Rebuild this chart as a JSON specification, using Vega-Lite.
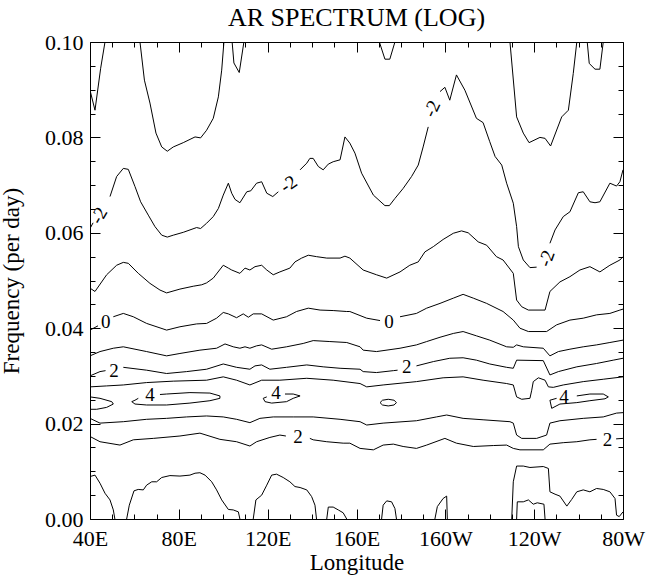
{
"$schema": "https://vega.github.io/schema/vega-lite/v6.json",
"width": 533, "height": 477,
"autosize": {"type": "none"},
"padding": {"left": 90, "top": 42, "right": 24, "bottom": 59},
"background": "white",
"title": {"text": "AR SPECTRUM (LOG)", "font": "Liberation Serif", "fontSize": 26, "fontWeight": "normal", "color": "black", "anchor": "middle", "frame": "group", "baseline": "alphabetic", "offset": -21},
"config": {"view": {"stroke": null}, "axis": {"grid": false, "domainColor": "black", "tickColor": "black", "labelColor": "black", "titleColor": "black", "labelFont": "Liberation Serif", "titleFont": "Liberation Serif", "labelFontSize": 22, "titleFontSize": 23, "titleFontWeight": "normal", "domainWidth": 1, "tickWidth": 1, "labelFlush": false, "labelOverlap": false}},
"datasets": {
"contours": [
{"level":-3,"seg":"TL","lon":40,"freq":0.0899},{"level":-3,"seg":"TL","lon":42.25,"freq":0.0857},{"level":-3,"seg":"TL","lon":44.8,"freq":0.0945},{"level":-3,"seg":"TL","lon":46.75,"freq":0.1},
{"level":-3,"seg":"U1","lon":62.5,"freq":0.1},{"level":-3,"seg":"U1","lon":64.5,"freq":0.092},{"level":-3,"seg":"U1","lon":67,"freq":0.0872},{"level":-3,"seg":"U1","lon":69.7,"freq":0.0809},{"level":-3,"seg":"U1","lon":72.3,"freq":0.078},{"level":-3,"seg":"U1","lon":74.8,"freq":0.0771},{"level":-3,"seg":"U1","lon":77.5,"freq":0.078},{"level":-3,"seg":"U1","lon":82,"freq":0.0789},{"level":-3,"seg":"U1","lon":87.3,"freq":0.0801},{"level":-3,"seg":"U1","lon":89.8,"freq":0.0799},{"level":-3,"seg":"U1","lon":92.5,"freq":0.0815},{"level":-3,"seg":"U1","lon":95.5,"freq":0.084},{"level":-3,"seg":"U1","lon":97.8,"freq":0.0885},{"level":-3,"seg":"U1","lon":99.3,"freq":0.0941},{"level":-3,"seg":"U1","lon":100.3,"freq":0.1},
{"level":-3,"seg":"V1","lon":104,"freq":0.1},{"level":-3,"seg":"V1","lon":104.8,"freq":0.0956},{"level":-3,"seg":"V1","lon":107.2,"freq":0.0936},{"level":-3,"seg":"V1","lon":109.3,"freq":0.1},
{"level":-3,"seg":"V2","lon":170.3,"freq":0.1},{"level":-3,"seg":"V2","lon":172.8,"freq":0.0964},{"level":-3,"seg":"V2","lon":175,"freq":0.0964},{"level":-3,"seg":"V2","lon":177.3,"freq":0.1},
{"level":-3,"seg":"U2","lon":229.1,"freq":0.1},{"level":-3,"seg":"U2","lon":232.1,"freq":0.0843},{"level":-3,"seg":"U2","lon":235.1,"freq":0.0809},{"level":-3,"seg":"U2","lon":237.7,"freq":0.0789},{"level":-3,"seg":"U2","lon":242.6,"freq":0.08},{"level":-3,"seg":"U2","lon":244.9,"freq":0.0798},{"level":-3,"seg":"U2","lon":247.4,"freq":0.0782},{"level":-3,"seg":"U2","lon":252.4,"freq":0.0843},{"level":-3,"seg":"U2","lon":255.4,"freq":0.0857},{"level":-3,"seg":"U2","lon":257.6,"freq":0.0934},{"level":-3,"seg":"U2","lon":259.2,"freq":0.1},
{"level":-3,"seg":"V3","lon":263.9,"freq":0.1},{"level":-3,"seg":"V3","lon":264.8,"freq":0.0955},{"level":-3,"seg":"V3","lon":267.4,"freq":0.0943},{"level":-3,"seg":"V3","lon":269.6,"freq":0.0943},{"level":-3,"seg":"V3","lon":271.1,"freq":0.1},
{"level":-2,"seg":"m2a","lon":40,"freq":0.0609},{"level":-2,"seg":"m2a","lon":41.4,"freq":0.0621},
{"level":-2,"seg":"m2b","lon":49,"freq":0.0676},{"level":-2,"seg":"m2b","lon":52,"freq":0.0718},{"level":-2,"seg":"m2b","lon":55,"freq":0.0735},{"level":-2,"seg":"m2b","lon":57.25,"freq":0.0733},{"level":-2,"seg":"m2b","lon":60.25,"freq":0.0697},{"level":-2,"seg":"m2b","lon":62.8,"freq":0.0665},{"level":-2,"seg":"m2b","lon":66.25,"freq":0.0637},{"level":-2,"seg":"m2b","lon":69.25,"freq":0.0613},{"level":-2,"seg":"m2b","lon":72.3,"freq":0.0595},{"level":-2,"seg":"m2b","lon":74.8,"freq":0.0591},{"level":-2,"seg":"m2b","lon":77.5,"freq":0.0595},{"level":-2,"seg":"m2b","lon":82,"freq":0.0601},{"level":-2,"seg":"m2b","lon":88,"freq":0.0611},{"level":-2,"seg":"m2b","lon":89.8,"freq":0.0609},{"level":-2,"seg":"m2b","lon":92.5,"freq":0.062},{"level":-2,"seg":"m2b","lon":95.5,"freq":0.0634},{"level":-2,"seg":"m2b","lon":97.8,"freq":0.0651},{"level":-2,"seg":"m2b","lon":100,"freq":0.0679},{"level":-2,"seg":"m2b","lon":102.3,"freq":0.0704},{"level":-2,"seg":"m2b","lon":103.8,"freq":0.0683},{"level":-2,"seg":"m2b","lon":105.3,"freq":0.067},{"level":-2,"seg":"m2b","lon":107.5,"freq":0.0663},{"level":-2,"seg":"m2b","lon":110.6,"freq":0.0686},{"level":-2,"seg":"m2b","lon":112.4,"freq":0.0688},{"level":-2,"seg":"m2b","lon":115,"freq":0.0704},{"level":-2,"seg":"m2b","lon":117.3,"freq":0.0707},{"level":-2,"seg":"m2b","lon":119.6,"freq":0.0683},{"level":-2,"seg":"m2b","lon":122.3,"freq":0.0676},{"level":-2,"seg":"m2b","lon":124.8,"freq":0.0686},
{"level":-2,"seg":"m2c","lon":134.6,"freq":0.0732},{"level":-2,"seg":"m2c","lon":137.6,"freq":0.0746},{"level":-2,"seg":"m2c","lon":139,"freq":0.0756},{"level":-2,"seg":"m2c","lon":140.5,"freq":0.0756},{"level":-2,"seg":"m2c","lon":142.8,"freq":0.0739},{"level":-2,"seg":"m2c","lon":145,"freq":0.0732},{"level":-2,"seg":"m2c","lon":147.3,"freq":0.0744},{"level":-2,"seg":"m2c","lon":149.5,"freq":0.0749},{"level":-2,"seg":"m2c","lon":152.6,"freq":0.0753},{"level":-2,"seg":"m2c","lon":154.8,"freq":0.0801},{"level":-2,"seg":"m2c","lon":157,"freq":0.0788},{"level":-2,"seg":"m2c","lon":159.3,"freq":0.0767},{"level":-2,"seg":"m2c","lon":162.3,"freq":0.0725},{"level":-2,"seg":"m2c","lon":167.6,"freq":0.0679},{"level":-2,"seg":"m2c","lon":172.8,"freq":0.0657},{"level":-2,"seg":"m2c","lon":174.8,"freq":0.0657},{"level":-2,"seg":"m2c","lon":177.3,"freq":0.0672},{"level":-2,"seg":"m2c","lon":181,"freq":0.0693},{"level":-2,"seg":"m2c","lon":184.8,"freq":0.0718},{"level":-2,"seg":"m2c","lon":187.8,"freq":0.0742},{"level":-2,"seg":"m2c","lon":190,"freq":0.078},{"level":-2,"seg":"m2c","lon":192.3,"freq":0.0822},
{"level":-2,"seg":"m2d","lon":197.6,"freq":0.0896},{"level":-2,"seg":"m2d","lon":199.8,"freq":0.0905},{"level":-2,"seg":"m2d","lon":202,"freq":0.0878},{"level":-2,"seg":"m2d","lon":205,"freq":0.0931},{"level":-2,"seg":"m2d","lon":208.8,"freq":0.0899},{"level":-2,"seg":"m2d","lon":214,"freq":0.084},{"level":-2,"seg":"m2d","lon":217,"freq":0.0831},{"level":-2,"seg":"m2d","lon":220,"freq":0.0791},{"level":-2,"seg":"m2d","lon":222.4,"freq":0.076},{"level":-2,"seg":"m2d","lon":225.4,"freq":0.0742},{"level":-2,"seg":"m2d","lon":227.6,"freq":0.0704},{"level":-2,"seg":"m2d","lon":230.6,"freq":0.0662},{"level":-2,"seg":"m2d","lon":232.1,"freq":0.0613},{"level":-2,"seg":"m2d","lon":232.9,"freq":0.0571},{"level":-2,"seg":"m2d","lon":235.1,"freq":0.0543},{"level":-2,"seg":"m2d","lon":238.1,"freq":0.0527},{"level":-2,"seg":"m2d","lon":241.1,"freq":0.0528},
{"level":-2,"seg":"m2e","lon":247.1,"freq":0.0578},{"level":-2,"seg":"m2e","lon":249.4,"freq":0.0606},{"level":-2,"seg":"m2e","lon":253.1,"freq":0.0634},{"level":-2,"seg":"m2e","lon":256.1,"freq":0.0644},{"level":-2,"seg":"m2e","lon":259.9,"freq":0.0684},{"level":-2,"seg":"m2e","lon":262.1,"freq":0.0686},{"level":-2,"seg":"m2e","lon":265.1,"freq":0.0665},{"level":-2,"seg":"m2e","lon":267.4,"freq":0.0663},{"level":-2,"seg":"m2e","lon":269.6,"freq":0.0665},{"level":-2,"seg":"m2e","lon":274.1,"freq":0.0704},{"level":-2,"seg":"m2e","lon":277.1,"freq":0.0698},{"level":-2,"seg":"m2e","lon":278.6,"freq":0.0707},{"level":-2,"seg":"m2e","lon":280,"freq":0.0732},
{"level":-1,"seg":"m1","lon":40,"freq":0.0484},{"level":-1,"seg":"m1","lon":42.25,"freq":0.0477},{"level":-1,"seg":"m1","lon":47.5,"freq":0.0512},{"level":-1,"seg":"m1","lon":52,"freq":0.0532},{"level":-1,"seg":"m1","lon":55,"freq":0.0538},{"level":-1,"seg":"m1","lon":57.25,"freq":0.0536},{"level":-1,"seg":"m1","lon":61.75,"freq":0.0515},{"level":-1,"seg":"m1","lon":67,"freq":0.0494},{"level":-1,"seg":"m1","lon":71.5,"freq":0.048},{"level":-1,"seg":"m1","lon":74.5,"freq":0.0474},{"level":-1,"seg":"m1","lon":80.5,"freq":0.0482},{"level":-1,"seg":"m1","lon":86.5,"freq":0.0488},{"level":-1,"seg":"m1","lon":90.3,"freq":0.0491},{"level":-1,"seg":"m1","lon":92.5,"freq":0.0495},{"level":-1,"seg":"m1","lon":95.5,"freq":0.0505},{"level":-1,"seg":"m1","lon":100,"freq":0.0532},{"level":-1,"seg":"m1","lon":102.3,"freq":0.0526},{"level":-1,"seg":"m1","lon":103.8,"freq":0.0522},{"level":-1,"seg":"m1","lon":107.5,"freq":0.0515},{"level":-1,"seg":"m1","lon":109.8,"freq":0.0526},{"level":-1,"seg":"m1","lon":112,"freq":0.0522},{"level":-1,"seg":"m1","lon":114.3,"freq":0.0529},{"level":-1,"seg":"m1","lon":117.3,"freq":0.0532},{"level":-1,"seg":"m1","lon":119.6,"freq":0.0522},{"level":-1,"seg":"m1","lon":122.5,"freq":0.0512},{"level":-1,"seg":"m1","lon":125.5,"freq":0.0518},{"level":-1,"seg":"m1","lon":130,"freq":0.0526},{"level":-1,"seg":"m1","lon":132.3,"freq":0.0539},{"level":-1,"seg":"m1","lon":135.3,"freq":0.0547},{"level":-1,"seg":"m1","lon":138.3,"freq":0.0553},{"level":-1,"seg":"m1","lon":142,"freq":0.055},{"level":-1,"seg":"m1","lon":146.6,"freq":0.0547},{"level":-1,"seg":"m1","lon":152.6,"freq":0.0547},{"level":-1,"seg":"m1","lon":154.8,"freq":0.0551},{"level":-1,"seg":"m1","lon":157,"freq":0.0547},{"level":-1,"seg":"m1","lon":163,"freq":0.0522},{"level":-1,"seg":"m1","lon":169,"freq":0.0512},{"level":-1,"seg":"m1","lon":173.6,"freq":0.0505},{"level":-1,"seg":"m1","lon":179.6,"freq":0.0518},{"level":-1,"seg":"m1","lon":184,"freq":0.0532},{"level":-1,"seg":"m1","lon":187.8,"freq":0.0539},{"level":-1,"seg":"m1","lon":190.8,"freq":0.056},{"level":-1,"seg":"m1","lon":194.6,"freq":0.0571},{"level":-1,"seg":"m1","lon":199,"freq":0.0586},{"level":-1,"seg":"m1","lon":203.6,"freq":0.0599},{"level":-1,"seg":"m1","lon":207.3,"freq":0.0604},{"level":-1,"seg":"m1","lon":210.3,"freq":0.06},{"level":-1,"seg":"m1","lon":214.8,"freq":0.0581},{"level":-1,"seg":"m1","lon":218.6,"freq":0.0574},{"level":-1,"seg":"m1","lon":223,"freq":0.055},{"level":-1,"seg":"m1","lon":226,"freq":0.0543},{"level":-1,"seg":"m1","lon":230.6,"freq":0.0515},{"level":-1,"seg":"m1","lon":232.1,"freq":0.0459},{"level":-1,"seg":"m1","lon":234.4,"freq":0.0445},{"level":-1,"seg":"m1","lon":237.4,"freq":0.0438},{"level":-1,"seg":"m1","lon":244.9,"freq":0.0438},{"level":-1,"seg":"m1","lon":247.1,"freq":0.0477},{"level":-1,"seg":"m1","lon":251.6,"freq":0.0497},{"level":-1,"seg":"m1","lon":256.1,"freq":0.0508},{"level":-1,"seg":"m1","lon":260.6,"freq":0.0522},{"level":-1,"seg":"m1","lon":265.1,"freq":0.0529},{"level":-1,"seg":"m1","lon":269.6,"freq":0.0518},{"level":-1,"seg":"m1","lon":274.1,"freq":0.0532},{"level":-1,"seg":"m1","lon":278.6,"freq":0.0543},{"level":-1,"seg":"m1","lon":280,"freq":0.055},
{"level":0,"seg":"z0a","lon":40,"freq":0.0396},{"level":0,"seg":"z0a","lon":43.6,"freq":0.0405},
{"level":0,"seg":"z0b","lon":50.5,"freq":0.0424},{"level":0,"seg":"z0b","lon":55,"freq":0.0431},{"level":0,"seg":"z0b","lon":59.5,"freq":0.0424},{"level":0,"seg":"z0b","lon":65.5,"freq":0.041},{"level":0,"seg":"z0b","lon":74.5,"freq":0.0396},{"level":0,"seg":"z0b","lon":80.5,"freq":0.0403},{"level":0,"seg":"z0b","lon":88,"freq":0.0409},{"level":0,"seg":"z0b","lon":92.5,"freq":0.041},{"level":0,"seg":"z0b","lon":97,"freq":0.0421},{"level":0,"seg":"z0b","lon":100,"freq":0.0433},{"level":0,"seg":"z0b","lon":102.3,"freq":0.043},{"level":0,"seg":"z0b","lon":106,"freq":0.0422},{"level":0,"seg":"z0b","lon":109,"freq":0.043},{"level":0,"seg":"z0b","lon":111.3,"freq":0.0423},{"level":0,"seg":"z0b","lon":113.5,"freq":0.043},{"level":0,"seg":"z0b","lon":117.3,"freq":0.043},{"level":0,"seg":"z0b","lon":122.5,"freq":0.0417},{"level":0,"seg":"z0b","lon":128.5,"freq":0.0424},{"level":0,"seg":"z0b","lon":133,"freq":0.0435},{"level":0,"seg":"z0b","lon":138.3,"freq":0.0442},{"level":0,"seg":"z0b","lon":143.6,"freq":0.0438},{"level":0,"seg":"z0b","lon":149.5,"freq":0.0437},{"level":0,"seg":"z0b","lon":155.6,"freq":0.0435},{"level":0,"seg":"z0b","lon":157,"freq":0.0435},{"level":0,"seg":"z0b","lon":164.6,"freq":0.0421},{"level":0,"seg":"z0b","lon":170.6,"freq":0.0416},
{"level":0,"seg":"z0c","lon":179.6,"freq":0.0424},{"level":0,"seg":"z0c","lon":187,"freq":0.0431},{"level":0,"seg":"z0c","lon":191.6,"freq":0.0442},{"level":0,"seg":"z0c","lon":197.6,"freq":0.0452},{"level":0,"seg":"z0c","lon":203.6,"freq":0.0463},{"level":0,"seg":"z0c","lon":208,"freq":0.0471},{"level":0,"seg":"z0c","lon":212.6,"freq":0.0463},{"level":0,"seg":"z0c","lon":218.6,"freq":0.0452},{"level":0,"seg":"z0c","lon":226,"freq":0.0435},{"level":0,"seg":"z0c","lon":230.6,"freq":0.0417},{"level":0,"seg":"z0c","lon":233.6,"freq":0.04},{"level":0,"seg":"z0c","lon":237.4,"freq":0.0393},{"level":0,"seg":"z0c","lon":245.6,"freq":0.0393},{"level":0,"seg":"z0c","lon":250.1,"freq":0.0407},{"level":0,"seg":"z0c","lon":256.1,"freq":0.0417},{"level":0,"seg":"z0c","lon":262.1,"freq":0.0421},{"level":0,"seg":"z0c","lon":268.1,"freq":0.0428},{"level":0,"seg":"z0c","lon":274.1,"freq":0.0431},{"level":0,"seg":"z0c","lon":278.6,"freq":0.0438},{"level":0,"seg":"z0c","lon":280,"freq":0.044},
{"level":1,"seg":"p1u","lon":40,"freq":0.0342},{"level":1,"seg":"p1u","lon":44.5,"freq":0.0351},{"level":1,"seg":"p1u","lon":50.5,"freq":0.0358},{"level":1,"seg":"p1u","lon":55,"freq":0.0361},{"level":1,"seg":"p1u","lon":65.5,"freq":0.0351},{"level":1,"seg":"p1u","lon":74.5,"freq":0.0342},{"level":1,"seg":"p1u","lon":80.5,"freq":0.0347},{"level":1,"seg":"p1u","lon":89.5,"freq":0.0354},{"level":1,"seg":"p1u","lon":97,"freq":0.0358},{"level":1,"seg":"p1u","lon":100.8,"freq":0.0367},{"level":1,"seg":"p1u","lon":104.5,"freq":0.0361},{"level":1,"seg":"p1u","lon":107.5,"freq":0.0358},{"level":1,"seg":"p1u","lon":109.8,"freq":0.0361},{"level":1,"seg":"p1u","lon":112,"freq":0.0358},{"level":1,"seg":"p1u","lon":115,"freq":0.0363},{"level":1,"seg":"p1u","lon":117.3,"freq":0.0365},{"level":1,"seg":"p1u","lon":121.8,"freq":0.0356},{"level":1,"seg":"p1u","lon":128.5,"freq":0.0361},{"level":1,"seg":"p1u","lon":136,"freq":0.0368},{"level":1,"seg":"p1u","lon":140.5,"freq":0.0374},{"level":1,"seg":"p1u","lon":148,"freq":0.0372},{"level":1,"seg":"p1u","lon":155.6,"freq":0.037},{"level":1,"seg":"p1u","lon":161.6,"freq":0.0361},{"level":1,"seg":"p1u","lon":163,"freq":0.0354},{"level":1,"seg":"p1u","lon":169,"freq":0.0351},{"level":1,"seg":"p1u","lon":179.6,"freq":0.0358},{"level":1,"seg":"p1u","lon":187,"freq":0.0365},{"level":1,"seg":"p1u","lon":191.6,"freq":0.0372},{"level":1,"seg":"p1u","lon":197.6,"freq":0.0381},{"level":1,"seg":"p1u","lon":203.6,"freq":0.0389},{"level":1,"seg":"p1u","lon":208,"freq":0.0393},{"level":1,"seg":"p1u","lon":214,"freq":0.0384},{"level":1,"seg":"p1u","lon":220,"freq":0.0375},{"level":1,"seg":"p1u","lon":227.6,"freq":0.0361},{"level":1,"seg":"p1u","lon":230.6,"freq":0.036},{"level":1,"seg":"p1u","lon":232.1,"freq":0.0365},{"level":1,"seg":"p1u","lon":235.1,"freq":0.0361},{"level":1,"seg":"p1u","lon":244.1,"freq":0.0358},{"level":1,"seg":"p1u","lon":247.1,"freq":0.0342},{"level":1,"seg":"p1u","lon":250.9,"freq":0.0351},{"level":1,"seg":"p1u","lon":256.1,"freq":0.0356},{"level":1,"seg":"p1u","lon":262.1,"freq":0.0361},{"level":1,"seg":"p1u","lon":268.1,"freq":0.0365},{"level":1,"seg":"p1u","lon":274.1,"freq":0.037},{"level":1,"seg":"p1u","lon":280,"freq":0.0375},
{"level":2,"seg":"p2a","lon":40,"freq":0.03},{"level":2,"seg":"p2a","lon":44.5,"freq":0.0309},{"level":2,"seg":"p2a","lon":47,"freq":0.0311},
{"level":2,"seg":"p2b","lon":55,"freq":0.0318},{"level":2,"seg":"p2b","lon":65.5,"freq":0.0312},{"level":2,"seg":"p2b","lon":74.5,"freq":0.0305},{"level":2,"seg":"p2b","lon":83.5,"freq":0.0309},{"level":2,"seg":"p2b","lon":92.5,"freq":0.0314},{"level":2,"seg":"p2b","lon":100,"freq":0.0325},{"level":2,"seg":"p2b","lon":106,"freq":0.0318},{"level":2,"seg":"p2b","lon":112,"freq":0.0314},{"level":2,"seg":"p2b","lon":114.3,"freq":0.0321},{"level":2,"seg":"p2b","lon":117.3,"freq":0.0323},{"level":2,"seg":"p2b","lon":121,"freq":0.0314},{"level":2,"seg":"p2b","lon":128.5,"freq":0.0318},{"level":2,"seg":"p2b","lon":137.6,"freq":0.0323},{"level":2,"seg":"p2b","lon":145,"freq":0.0319},{"level":2,"seg":"p2b","lon":152.6,"freq":0.0316},{"level":2,"seg":"p2b","lon":161.6,"freq":0.0314},{"level":2,"seg":"p2b","lon":163,"freq":0.0309},{"level":2,"seg":"p2b","lon":169,"freq":0.0307},{"level":2,"seg":"p2b","lon":176.6,"freq":0.0311},{"level":2,"seg":"p2b","lon":178.5,"freq":0.0312},
{"level":2,"seg":"p2c","lon":187,"freq":0.0321},{"level":2,"seg":"p2c","lon":194.6,"freq":0.033},{"level":2,"seg":"p2c","lon":202,"freq":0.0337},{"level":2,"seg":"p2c","lon":208,"freq":0.0338},{"level":2,"seg":"p2c","lon":214,"freq":0.0333},{"level":2,"seg":"p2c","lon":220,"freq":0.0325},{"level":2,"seg":"p2c","lon":227.6,"freq":0.0318},{"level":2,"seg":"p2c","lon":230.6,"freq":0.0316},{"level":2,"seg":"p2c","lon":232.1,"freq":0.0333},{"level":2,"seg":"p2c","lon":244.1,"freq":0.0332},{"level":2,"seg":"p2c","lon":247.1,"freq":0.0302},{"level":2,"seg":"p2c","lon":250.9,"freq":0.0309},{"level":2,"seg":"p2c","lon":259.2,"freq":0.0319},{"level":2,"seg":"p2c","lon":268.1,"freq":0.0326},{"level":2,"seg":"p2c","lon":275.6,"freq":0.0333},{"level":2,"seg":"p2c","lon":280,"freq":0.0337},
{"level":3,"seg":"p3u","lon":40,"freq":0.0277},{"level":3,"seg":"p3u","lon":47.5,"freq":0.0279},{"level":3,"seg":"p3u","lon":55,"freq":0.0281},{"level":3,"seg":"p3u","lon":65.5,"freq":0.0286},{"level":3,"seg":"p3u","lon":77.5,"freq":0.0289},{"level":3,"seg":"p3u","lon":92.5,"freq":0.0291},{"level":3,"seg":"p3u","lon":100,"freq":0.0298},{"level":3,"seg":"p3u","lon":106,"freq":0.0291},{"level":3,"seg":"p3u","lon":112,"freq":0.0281},{"level":3,"seg":"p3u","lon":117.3,"freq":0.0291},{"level":3,"seg":"p3u","lon":125.5,"freq":0.0291},{"level":3,"seg":"p3u","lon":137.6,"freq":0.0295},{"level":3,"seg":"p3u","lon":149.5,"freq":0.0291},{"level":3,"seg":"p3u","lon":161.6,"freq":0.0284},{"level":3,"seg":"p3u","lon":164.6,"freq":0.0277},{"level":3,"seg":"p3u","lon":172,"freq":0.0281},{"level":3,"seg":"p3u","lon":187,"freq":0.0288},{"level":3,"seg":"p3u","lon":199,"freq":0.0296},{"level":3,"seg":"p3u","lon":208,"freq":0.0298},{"level":3,"seg":"p3u","lon":217,"freq":0.0291},{"level":3,"seg":"p3u","lon":227.6,"freq":0.0284},{"level":3,"seg":"p3u","lon":230.6,"freq":0.0281},{"level":3,"seg":"p3u","lon":232.1,"freq":0.0256},{"level":3,"seg":"p3u","lon":234.4,"freq":0.0251},{"level":3,"seg":"p3u","lon":238.1,"freq":0.0253},{"level":3,"seg":"p3u","lon":238.9,"freq":0.027},{"level":3,"seg":"p3u","lon":239.6,"freq":0.0288},{"level":3,"seg":"p3u","lon":241.9,"freq":0.0296},{"level":3,"seg":"p3u","lon":244.9,"freq":0.0291},{"level":3,"seg":"p3u","lon":246.4,"freq":0.0277},{"level":3,"seg":"p3u","lon":248.6,"freq":0.0276},{"level":3,"seg":"p3u","lon":253.1,"freq":0.0281},{"level":3,"seg":"p3u","lon":262.1,"freq":0.0288},{"level":3,"seg":"p3u","lon":271.1,"freq":0.0293},{"level":3,"seg":"p3u","lon":280,"freq":0.0298},
{"level":4,"seg":"L1","lon":40,"freq":0.0256},{"level":4,"seg":"L1","lon":44.5,"freq":0.0253},{"level":4,"seg":"L1","lon":49.8,"freq":0.0246},{"level":4,"seg":"L1","lon":50.5,"freq":0.0241},{"level":4,"seg":"L1","lon":47.5,"freq":0.0234},{"level":4,"seg":"L1","lon":43,"freq":0.023},{"level":4,"seg":"L1","lon":40,"freq":0.023},
{"level":4,"seg":"L2","lon":71.5,"freq":0.0261},{"level":4,"seg":"L2","lon":74.5,"freq":0.0262},{"level":4,"seg":"L2","lon":85,"freq":0.0265},{"level":4,"seg":"L2","lon":94,"freq":0.0264},{"level":4,"seg":"L2","lon":98.5,"freq":0.0258},{"level":4,"seg":"L2","lon":98.5,"freq":0.0253},{"level":4,"seg":"L2","lon":94,"freq":0.0248},{"level":4,"seg":"L2","lon":85,"freq":0.0243},{"level":4,"seg":"L2","lon":74.5,"freq":0.0239},{"level":4,"seg":"L2","lon":65.5,"freq":0.0239},{"level":4,"seg":"L2","lon":60.25,"freq":0.0241},{"level":4,"seg":"L2","lon":58.8,"freq":0.0246},{"level":4,"seg":"L2","lon":60.25,"freq":0.0249},{"level":4,"seg":"L2","lon":61.75,"freq":0.0253},
{"level":4,"seg":"L3","lon":127.8,"freq":0.0262},{"level":4,"seg":"L3","lon":131.5,"freq":0.0262},{"level":4,"seg":"L3","lon":134.6,"freq":0.0258},{"level":4,"seg":"L3","lon":131.5,"freq":0.0253},{"level":4,"seg":"L3","lon":128.5,"freq":0.0246},{"level":4,"seg":"L3","lon":121.8,"freq":0.0243},{"level":4,"seg":"L3","lon":118.8,"freq":0.0246},{"level":4,"seg":"L3","lon":118,"freq":0.0253},{"level":4,"seg":"L3","lon":119.6,"freq":0.0256},
{"level":4,"seg":"L4","lon":170.6,"freq":0.0244},{"level":4,"seg":"L4","lon":171.7,"freq":0.0249},{"level":4,"seg":"L4","lon":174.3,"freq":0.0251},{"level":4,"seg":"L4","lon":176.9,"freq":0.0249},{"level":4,"seg":"L4","lon":178,"freq":0.0244},{"level":4,"seg":"L4","lon":176.9,"freq":0.0239},{"level":4,"seg":"L4","lon":174.3,"freq":0.0237},{"level":4,"seg":"L4","lon":171.7,"freq":0.0239},{"level":4,"seg":"L4","lon":170.6,"freq":0.0244},
{"level":4,"seg":"L5","lon":259.2,"freq":0.0258},{"level":4,"seg":"L5","lon":265.1,"freq":0.0262},{"level":4,"seg":"L5","lon":271.1,"freq":0.0262},{"level":4,"seg":"L5","lon":273.4,"freq":0.0256},{"level":4,"seg":"L5","lon":271.9,"freq":0.0252},{"level":4,"seg":"L5","lon":265.1,"freq":0.0248},{"level":4,"seg":"L5","lon":259.2,"freq":0.0244},{"level":4,"seg":"L5","lon":251.6,"freq":0.0241},{"level":4,"seg":"L5","lon":247.9,"freq":0.0232},{"level":4,"seg":"L5","lon":247.1,"freq":0.0249},{"level":4,"seg":"L5","lon":250.1,"freq":0.0253},
{"level":3,"seg":"p3l","lon":40,"freq":0.0211},{"level":3,"seg":"p3l","lon":44.5,"freq":0.0201},{"level":3,"seg":"p3l","lon":55,"freq":0.0204},{"level":3,"seg":"p3l","lon":65.5,"freq":0.0209},{"level":3,"seg":"p3l","lon":74.5,"freq":0.0211},{"level":3,"seg":"p3l","lon":83.5,"freq":0.0214},{"level":3,"seg":"p3l","lon":92.5,"freq":0.0216},{"level":3,"seg":"p3l","lon":100,"freq":0.0214},{"level":3,"seg":"p3l","lon":106,"freq":0.0209},{"level":3,"seg":"p3l","lon":112,"freq":0.0202},{"level":3,"seg":"p3l","lon":116.5,"freq":0.0211},{"level":3,"seg":"p3l","lon":122.5,"freq":0.0214},{"level":3,"seg":"p3l","lon":131.5,"freq":0.0214},{"level":3,"seg":"p3l","lon":140.5,"freq":0.0214},{"level":3,"seg":"p3l","lon":152.6,"freq":0.0209},{"level":3,"seg":"p3l","lon":161.6,"freq":0.0204},{"level":3,"seg":"p3l","lon":164.6,"freq":0.0197},{"level":3,"seg":"p3l","lon":172,"freq":0.0201},{"level":3,"seg":"p3l","lon":187,"freq":0.0206},{"level":3,"seg":"p3l","lon":196,"freq":0.0214},{"level":3,"seg":"p3l","lon":200.6,"freq":0.0218},{"level":3,"seg":"p3l","lon":208,"freq":0.0211},{"level":3,"seg":"p3l","lon":217,"freq":0.0208},{"level":3,"seg":"p3l","lon":229.1,"freq":0.0204},{"level":3,"seg":"p3l","lon":230.6,"freq":0.0201},{"level":3,"seg":"p3l","lon":232.1,"freq":0.0176},{"level":3,"seg":"p3l","lon":234.4,"freq":0.0169},{"level":3,"seg":"p3l","lon":241.1,"freq":0.0169},{"level":3,"seg":"p3l","lon":245.6,"freq":0.0176},{"level":3,"seg":"p3l","lon":247.1,"freq":0.0201},{"level":3,"seg":"p3l","lon":251.6,"freq":0.0206},{"level":3,"seg":"p3l","lon":262.1,"freq":0.0211},{"level":3,"seg":"p3l","lon":271.1,"freq":0.0214},{"level":3,"seg":"p3l","lon":277.1,"freq":0.0222},{"level":3,"seg":"p3l","lon":280,"freq":0.0223},
{"level":2,"seg":"p2la","lon":40,"freq":0.0173},{"level":2,"seg":"p2la","lon":44.5,"freq":0.0162},{"level":2,"seg":"p2la","lon":53.5,"freq":0.0155},{"level":2,"seg":"p2la","lon":59.5,"freq":0.0166},{"level":2,"seg":"p2la","lon":68.5,"freq":0.0169},{"level":2,"seg":"p2la","lon":80.5,"freq":0.0174},{"level":2,"seg":"p2la","lon":89.5,"freq":0.018},{"level":2,"seg":"p2la","lon":98.5,"freq":0.0167},{"level":2,"seg":"p2la","lon":106,"freq":0.0162},{"level":2,"seg":"p2la","lon":112,"freq":0.0153},{"level":2,"seg":"p2la","lon":115,"freq":0.0162},{"level":2,"seg":"p2la","lon":121,"freq":0.0171},{"level":2,"seg":"p2la","lon":125.5,"freq":0.0176},{"level":2,"seg":"p2la","lon":128.2,"freq":0.0174},
{"level":2,"seg":"p2lb","lon":139,"freq":0.0169},{"level":2,"seg":"p2lb","lon":140.5,"freq":0.0166},{"level":2,"seg":"p2lb","lon":146.6,"freq":0.0162},{"level":2,"seg":"p2lb","lon":154,"freq":0.0159},{"level":2,"seg":"p2lb","lon":157,"freq":0.0159},{"level":2,"seg":"p2lb","lon":161.6,"freq":0.0148},{"level":2,"seg":"p2lb","lon":167.6,"freq":0.0145},{"level":2,"seg":"p2lb","lon":172,"freq":0.0155},{"level":2,"seg":"p2lb","lon":176.6,"freq":0.0157},{"level":2,"seg":"p2lb","lon":181,"freq":0.0152},{"level":2,"seg":"p2lb","lon":187,"freq":0.0148},{"level":2,"seg":"p2lb","lon":191.6,"freq":0.0155},{"level":2,"seg":"p2lb","lon":199.8,"freq":0.0169},{"level":2,"seg":"p2lb","lon":205,"freq":0.0159},{"level":2,"seg":"p2lb","lon":212.6,"freq":0.0152},{"level":2,"seg":"p2lb","lon":221.6,"freq":0.0154},{"level":2,"seg":"p2lb","lon":227.6,"freq":0.0155},{"level":2,"seg":"p2lb","lon":230.6,"freq":0.0148},{"level":2,"seg":"p2lb","lon":233.6,"freq":0.0145},{"level":2,"seg":"p2lb","lon":244.1,"freq":0.0145},{"level":2,"seg":"p2lb","lon":247.1,"freq":0.0157},{"level":2,"seg":"p2lb","lon":253.1,"freq":0.016},{"level":2,"seg":"p2lb","lon":259.2,"freq":0.0162},{"level":2,"seg":"p2lb","lon":265.1,"freq":0.0166},{"level":2,"seg":"p2lb","lon":268.1,"freq":0.0167},
{"level":2,"seg":"p2lc","lon":276.9,"freq":0.0168},{"level":2,"seg":"p2lc","lon":280,"freq":0.0169},
{"level":1,"seg":"bA","lon":40,"freq":0.0089},{"level":1,"seg":"bA","lon":42.25,"freq":0.0092},{"level":1,"seg":"bA","lon":44.5,"freq":0.0075},{"level":1,"seg":"bA","lon":46.75,"freq":0.0054},{"level":1,"seg":"bA","lon":49,"freq":0.004},{"level":1,"seg":"bA","lon":50.5,"freq":0.0019},{"level":1,"seg":"bA","lon":51.2,"freq":0},
{"level":1,"seg":"bB","lon":56.5,"freq":0},{"level":1,"seg":"bB","lon":57.7,"freq":0.0029},{"level":1,"seg":"bB","lon":59.8,"freq":0.0059},{"level":1,"seg":"bB","lon":61.7,"freq":0.0062},{"level":1,"seg":"bB","lon":64,"freq":0.0061},{"level":1,"seg":"bB","lon":65.5,"freq":0.0071},{"level":1,"seg":"bB","lon":67.8,"freq":0.0078},{"level":1,"seg":"bB","lon":70,"freq":0.0078},{"level":1,"seg":"bB","lon":72.3,"freq":0.0087},{"level":1,"seg":"bB","lon":76,"freq":0.0091},{"level":1,"seg":"bB","lon":80.5,"freq":0.009},{"level":1,"seg":"bB","lon":85,"freq":0.0092},{"level":1,"seg":"bB","lon":87.3,"freq":0.0096},{"level":1,"seg":"bB","lon":89.5,"freq":0.0097},{"level":1,"seg":"bB","lon":91.8,"freq":0.0092},{"level":1,"seg":"bB","lon":94.8,"freq":0.0078},{"level":1,"seg":"bB","lon":97,"freq":0.0061},{"level":1,"seg":"bB","lon":99.3,"freq":0.004},{"level":1,"seg":"bB","lon":102.3,"freq":0.002},{"level":1,"seg":"bB","lon":104.5,"freq":0.0019},{"level":1,"seg":"bB","lon":106.8,"freq":0.0015},{"level":1,"seg":"bB","lon":107.5,"freq":0},
{"level":1,"seg":"bC","lon":113.5,"freq":0},{"level":1,"seg":"bC","lon":114.7,"freq":0.004},{"level":1,"seg":"bC","lon":117.3,"freq":0.005},{"level":1,"seg":"bC","lon":119.6,"freq":0.0071},{"level":1,"seg":"bC","lon":121.8,"freq":0.0092},{"level":1,"seg":"bC","lon":124,"freq":0.0094},{"level":1,"seg":"bC","lon":127,"freq":0.0087},{"level":1,"seg":"bC","lon":130,"freq":0.0078},{"level":1,"seg":"bC","lon":132.3,"freq":0.0068},{"level":1,"seg":"bC","lon":134.6,"freq":0.0066},{"level":1,"seg":"bC","lon":137.6,"freq":0.0061},{"level":1,"seg":"bC","lon":139.8,"freq":0.0047},{"level":1,"seg":"bC","lon":141.3,"freq":0.0029},{"level":1,"seg":"bC","lon":142,"freq":0},
{"level":1,"seg":"bD","lon":146.6,"freq":0},{"level":1,"seg":"bD","lon":147.3,"freq":0.0025},{"level":1,"seg":"bD","lon":149.5,"freq":0.0025},{"level":1,"seg":"bD","lon":151.8,"freq":0.0019},{"level":1,"seg":"bD","lon":154,"freq":0.0013},{"level":1,"seg":"bD","lon":155.6,"freq":0},
{"level":1,"seg":"bE","lon":171.3,"freq":0},{"level":1,"seg":"bE","lon":172,"freq":0.0029},{"level":1,"seg":"bE","lon":173.6,"freq":0.0038},{"level":1,"seg":"bE","lon":175.8,"freq":0.0036},{"level":1,"seg":"bE","lon":177.3,"freq":0.0022},{"level":1,"seg":"bE","lon":178,"freq":0},
{"level":1,"seg":"bF","lon":195.3,"freq":0},{"level":1,"seg":"bF","lon":196.4,"freq":0.0026},{"level":1,"seg":"bF","lon":199,"freq":0.0043},{"level":1,"seg":"bF","lon":200.6,"freq":0.0048},{"level":1,"seg":"bF","lon":200.9,"freq":0},
{"level":1,"seg":"bG","lon":229.9,"freq":0},{"level":1,"seg":"bG","lon":230.6,"freq":0.0078},{"level":1,"seg":"bG","lon":232.1,"freq":0.0111},{"level":1,"seg":"bG","lon":235.1,"freq":0.0111},{"level":1,"seg":"bG","lon":238.1,"freq":0.0108},{"level":1,"seg":"bG","lon":244.1,"freq":0.011},{"level":1,"seg":"bG","lon":246.4,"freq":0.0106},{"level":1,"seg":"bG","lon":247.1,"freq":0.0057},{"level":1,"seg":"bG","lon":249.4,"freq":0.0052},{"level":1,"seg":"bG","lon":251.6,"freq":0.0048},{"level":1,"seg":"bG","lon":254.7,"freq":0.0027},{"level":1,"seg":"bG","lon":256.9,"freq":0.0041},{"level":1,"seg":"bG","lon":259.2,"freq":0.0057},{"level":1,"seg":"bG","lon":262.1,"freq":0.0061},{"level":1,"seg":"bG","lon":265.1,"freq":0.0057},{"level":1,"seg":"bG","lon":268.1,"freq":0.0064},{"level":1,"seg":"bG","lon":271.1,"freq":0.0062},{"level":1,"seg":"bG","lon":274.1,"freq":0.0057},{"level":1,"seg":"bG","lon":276.4,"freq":0.0043},{"level":1,"seg":"bG","lon":277.1,"freq":0.0008},{"level":1,"seg":"bG","lon":278.3,"freq":0.0005},{"level":1,"seg":"bG","lon":280,"freq":0.0015},
{"level":0,"seg":"bH","lon":232.1,"freq":0},{"level":0,"seg":"bH","lon":232.4,"freq":0.0036},{"level":0,"seg":"bH","lon":235.1,"freq":0.0036},{"level":0,"seg":"bH","lon":237.4,"freq":0.004},{"level":0,"seg":"bH","lon":239.6,"freq":0.0031},{"level":0,"seg":"bH","lon":241.4,"freq":0.0034},{"level":0,"seg":"bH","lon":244.4,"freq":0.0031},{"level":0,"seg":"bH","lon":244.9,"freq":0}
],
"labels": [
{"id":"a","lon":44,"freq":0.0636,"text":"-2"},
{"id":"b","lon":129.4,"freq":0.0702,"text":"-2"},
{"id":"c","lon":194,"freq":0.086,"text":"-2"},
{"id":"d","lon":245.6,"freq":0.0546,"text":"-2"},
{"id":"e","lon":47.1,"freq":0.0414,"text":"0"},
{"id":"f","lon":174.6,"freq":0.0414,"text":"0"},
{"id":"g","lon":50.8,"freq":0.031,"text":"2"},
{"id":"h","lon":182.6,"freq":0.0318,"text":"2"},
{"id":"i","lon":67,"freq":0.026,"text":"4"},
{"id":"j","lon":123.8,"freq":0.0264,"text":"4"},
{"id":"k","lon":253.4,"freq":0.0256,"text":"4"},
{"id":"l","lon":133.7,"freq":0.0171,"text":"2"},
{"id":"m","lon":273,"freq":0.0166,"text":"2"}
]
},
"layer": [
{"data": {"name": "contours"}, "transform": [{"filter": "datum.level <= 0"}],
 "mark": {"type": "line", "color": "black", "strokeWidth": 1, "clip": true},
 "encoding": {
  "x": {"field": "lon", "type": "quantitative", "scale": {"domain": [40, 280], "nice": false, "zero": false},
   "axis": {"orient": "bottom", "values": [40,50,60,70,80,90,100,110,120,130,140,150,160,170,180,190,200,210,220,230,240,250,260,270,280],
    "labelExpr": "datum.value % 40 === 0 ? (datum.value <= 180 ? datum.value + 'E' : (360 - datum.value) + 'W') : ''",
    "tickSize": {"condition": {"test": "datum.value % 40 === 0", "value": -10}, "value": -5},
    "labelPadding": 19, "title": "Longitude", "titlePadding": -3}},
  "y": {"field": "freq", "type": "quantitative", "scale": {"domain": [0, 0.1], "nice": false, "zero": false},
   "axis": {"orient": "left", "values": [0,0.005,0.01,0.015,0.02,0.025,0.03,0.035,0.04,0.045,0.05,0.055,0.06,0.065,0.07,0.075,0.08,0.085,0.09,0.095,0.1],
    "labelExpr": "round(datum.value * 1000) % 20 === 0 ? format(datum.value, '.2f') : ''",
    "tickSize": {"condition": {"test": "round(datum.value * 1000) % 20 === 0", "value": -10}, "value": -5},
    "labelPadding": 17, "title": "Frequency (per day)", "titlePadding": 21}},
  "detail": {"field": "seg"},
  "order": {"value": null}}},
{"data": {"name": "contours"}, "transform": [{"filter": "datum.level > 0"}],
 "mark": {"type": "line", "color": "black", "strokeWidth": 1, "clip": true},
 "encoding": {
  "x": {"field": "lon", "type": "quantitative", "scale": {"domain": [40, 280], "nice": false, "zero": false},
   "axis": {"orient": "top", "values": [40,50,60,70,80,90,100,110,120,130,140,150,160,170,180,190,200,210,220,230,240,250,260,270,280], "labels": false, "title": null,
    "tickSize": {"condition": {"test": "datum.value % 40 === 0", "value": -10}, "value": -5}}},
  "y": {"field": "freq", "type": "quantitative", "scale": {"domain": [0, 0.1], "nice": false, "zero": false},
   "axis": {"orient": "right", "values": [0,0.005,0.01,0.015,0.02,0.025,0.03,0.035,0.04,0.045,0.05,0.055,0.06,0.065,0.07,0.075,0.08,0.085,0.09,0.095,0.1], "labels": false, "title": null,
    "tickSize": {"condition": {"test": "round(datum.value * 1000) % 20 === 0", "value": -10}, "value": -5}}},
  "detail": {"field": "seg"},
  "order": {"value": null}}},
{"data": {"name": "labels"}, "transform": [{"filter": "datum.text !== '-2'"}],
 "mark": {"type": "text", "font": "Liberation Serif", "fontSize": 19, "color": "black", "align": "center", "baseline": "middle"},
 "encoding": {"x": {"field": "lon", "type": "quantitative", "axis": null}, "y": {"field": "freq", "type": "quantitative", "axis": null}, "text": {"field": "text"}}},
{"data": {"name": "labels"}, "transform": [{"filter": "datum.id === 'a'"}],
 "mark": {"type": "text", "font": "Liberation Serif", "fontSize": 19, "color": "black", "align": "center", "baseline": "middle", "angle": 300},
 "encoding": {"x": {"field": "lon", "type": "quantitative", "axis": null}, "y": {"field": "freq", "type": "quantitative", "axis": null}, "text": {"field": "text"}}},
{"data": {"name": "labels"}, "transform": [{"filter": "datum.id === 'b'"}],
 "mark": {"type": "text", "font": "Liberation Serif", "fontSize": 19, "color": "black", "align": "center", "baseline": "middle", "angle": 325},
 "encoding": {"x": {"field": "lon", "type": "quantitative", "axis": null}, "y": {"field": "freq", "type": "quantitative", "axis": null}, "text": {"field": "text"}}},
{"data": {"name": "labels"}, "transform": [{"filter": "datum.id === 'c'"}],
 "mark": {"type": "text", "font": "Liberation Serif", "fontSize": 19, "color": "black", "align": "center", "baseline": "middle", "angle": 295},
 "encoding": {"x": {"field": "lon", "type": "quantitative", "axis": null}, "y": {"field": "freq", "type": "quantitative", "axis": null}, "text": {"field": "text"}}},
{"data": {"name": "labels"}, "transform": [{"filter": "datum.id === 'd'"}],
 "mark": {"type": "text", "font": "Liberation Serif", "fontSize": 19, "color": "black", "align": "center", "baseline": "middle", "angle": 290},
 "encoding": {"x": {"field": "lon", "type": "quantitative", "axis": null}, "y": {"field": "freq", "type": "quantitative", "axis": null}, "text": {"field": "text"}}}
],
"resolve": {"axis": {"x": "independent", "y": "independent"}}
}
